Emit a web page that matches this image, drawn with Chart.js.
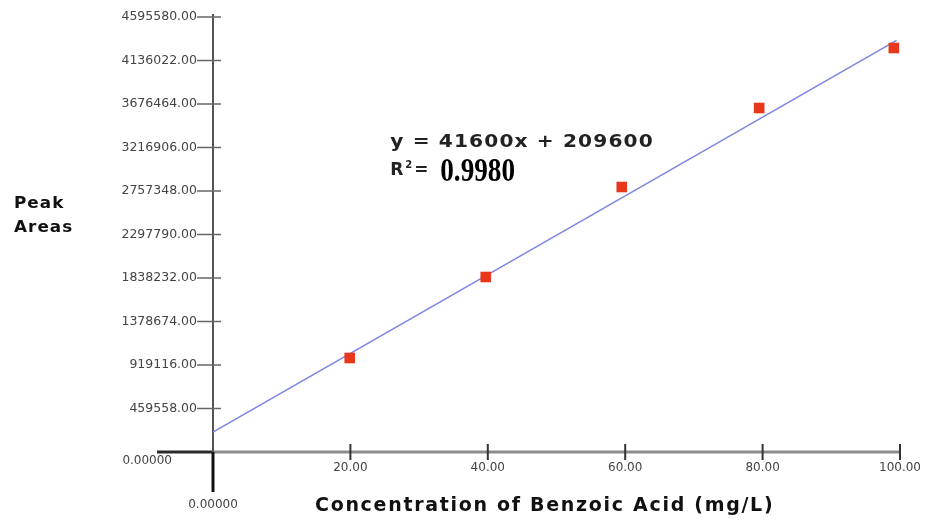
<!DOCTYPE html>
<html lang="en"><head>
<meta charset="UTF-8">
<title>Benzoic Acid calibration</title>
<script src="https://cdn.jsdelivr.net/npm/chart.js@4.4.1/dist/chart.umd.min.js"></script>
<style>
  html, body { margin:0; padding:0; background:#ffffff; }
  #wrap { width:935px; height:520px; position:relative; }
</style>
</head>
<body>
<div id="wrap"><canvas id="calib_chart"></canvas></div>

<script>
// data
const concentration = [19.9, 39.7, 59.5, 79.5, 99.1];        // mg/L
const peakArea = [993000, 1848800, 2799600, 3634300, 4268100];
const yStep = 459558;          // y tick spacing
const yTickCount = 10;
const xStep = 20;
const xMax = 100;
// trend line from the printed equation
const slope = 41600;
const intercept = 209600;
const fitRange = [0, 99.5];
const eqText = 'y = 41600x + 209600';
const r2Text = '0.9980';
const eqAt = { x: 25.8, y: 3267000 };

const pts = concentration.map((c, i) => ({ x: c, y: peakArea[i] }));
const fit = fitRange.map(v => ({ x: v, y: slope * v + intercept }));

Chart.defaults.font.family = '"DejaVu Sans", Verdana, sans-serif';
Chart.defaults.color = '#444';

function seg(ctx, x1, y1, x2, y2) {
	ctx.beginPath();
	ctx.moveTo(x1, y1);
	ctx.lineTo(x2, y2);
	ctx.stroke();
}

// wide text: stretched a little sideways, as in the picture
function wideText(ctx, txt, x, y, sx, spacing) {
	ctx.save();
	ctx.translate(x, y);
	ctx.scale(sx, 1);
	ctx.letterSpacing = spacing + 'px';
	ctx.fillText(txt, 0, 0);
	ctx.restore();
}

// axes crossing at zero, with tick marks on both sides
const crossAxes = {
	id: 'crossAxes',
	beforeDatasetsDraw(chart) {
		const { ctx, chartArea: a, scales: { x, y } } = chart;
		const x0 = x.getPixelForValue(0), y0 = y.getPixelForValue(0);
		ctx.save();
		ctx.lineCap = 'butt';
		ctx.strokeStyle = '#8c8c8c'; ctx.lineWidth = 3;
		seg(ctx, x0, y0, a.right, y0);
		ctx.strokeStyle = '#2a2a2a'; ctx.lineWidth = 3;
		seg(ctx, x0 - 56, y0, x0, y0);
		ctx.strokeStyle = '#555'; ctx.lineWidth = 2;
		seg(ctx, x0, a.top - 3, x0, y0);
		ctx.strokeStyle = '#111'; ctx.lineWidth = 3;
		seg(ctx, x0, y0, x0, y0 + 40);

		ctx.strokeStyle = '#666'; ctx.lineWidth = 1.5;
		y.ticks.forEach(t => {
			if (!t.value) return;
			const py = y.getPixelForValue(t.value);
			seg(ctx, x0 - 16, py, x0 + 8, py);
		});
		ctx.strokeStyle = '#333'; ctx.lineWidth = 2;
		x.ticks.forEach(t => {
			if (!t.value) return;
			const px = x.getPixelForValue(t.value);
			seg(ctx, px, y0 - 8, px, y0 + 8);
		});

		ctx.fillStyle = '#444';
		ctx.font = '12px "DejaVu Sans"';
		ctx.textBaseline = 'middle';
		ctx.textAlign = 'right';
		ctx.fillText('0.00000', x0 - 41, y0 + 9);
		ctx.textAlign = 'center';
		ctx.fillText('0.00000', x0, y0 + 53);
		ctx.restore();
	},
	afterDraw(chart) {
		const { ctx, chartArea: a, scales: { x, y } } = chart;
		ctx.save();
		ctx.fillStyle = '#222';
		ctx.textBaseline = 'middle';
		ctx.textAlign = 'left';

		// equation
		const ex = x.getPixelForValue(eqAt.x), ey = y.getPixelForValue(eqAt.y);
		ctx.font = 'bold 18px "DejaVu Sans"';
		wideText(ctx, eqText, ex, ey, 1.12, 1);
		ctx.font = 'bold 17px "DejaVu Sans"';
		ctx.fillText('R', ex, ey + 28);
		ctx.font = 'bold 10px "DejaVu Sans"';
		ctx.fillText('2', ex + 15, ey + 23);
		ctx.font = 'bold 17px "DejaVu Sans"';
		ctx.fillText('=', ex + 24, ey + 28);
		ctx.save();
		ctx.translate(ex + 50, ey + 29);
		ctx.scale(0.8, 1);
		ctx.font = 'bold 34px "Liberation Sans Narrow"';
		ctx.fillStyle = '#000';
		ctx.fillText(r2Text, 0, 0);
		ctx.restore();

		// axis titles
		ctx.fillStyle = '#111';
		ctx.font = 'bold 19px "DejaVu Sans"';
		ctx.textAlign = 'left';
		wideText(ctx, 'Concentration of Benzoic Acid (mg/L)', a.left + 102, a.bottom + 54, 1.0, 1.7);

		ctx.font = 'bold 16px "DejaVu Sans"';
		ctx.save();
		ctx.beginPath();
		ctx.rect(0, 0, 75, chart.height);
		ctx.clip();
		wideText(ctx, 'Peak', 14, 204, 1.05, 1);
		wideText(ctx, 'Areas', 14, 228, 1.05, 1);
		ctx.restore();
		ctx.restore();
	}
};

new Chart(document.getElementById('calib_chart'), {
	type: 'scatter',
	data: {
		datasets: [{
			label: 'Peak Areas',
			data: pts,
			order: 0,
			pointStyle: 'rect',
			pointRadius: 7.5,
			pointBorderWidth: 0,
			backgroundColor: '#e8381c',
			borderColor: '#e8381c'
		}, {
			label: 'fit',
			data: fit,
			order: 1,
			showLine: true,
			pointRadius: 0,
			borderColor: '#7f86e2',
			borderWidth: 1.6
		}]
	},
	options: {
		responsive: true,
		maintainAspectRatio: false,
		animation: false,
		layout: { padding: { top: 17, right: 35, left: 0, bottom: 0 } },
		plugins: { legend: { display: false }, tooltip: { enabled: false } },
		scales: {
			x: {
				type: 'linear',
				min: 0,
				max: xMax,
				grid: { display: false, drawTicks: false },
				border: { display: false },
				afterFit: s => { s.height = 68; s.paddingLeft = 0; s.paddingRight = 0; },
				ticks: {
					stepSize: xStep,
					padding: 9,
					maxRotation: 0,
					autoSkip: false,
					font: { size: 12 },
					callback: v => v === 0 ? '' : v.toFixed(2)
				}
			},
			y: {
				type: 'linear',
				min: 0,
				max: yStep * yTickCount,
				grid: { display: false, drawTicks: false },
				border: { display: false },
				afterFit: s => { s.width = 213; s.paddingTop = 0; s.paddingBottom = 0; },
				ticks: {
					stepSize: yStep,
					padding: 16,
					autoSkip: false,
					font: { size: 12.5 },
					callback: v => v === 0 ? '' : v.toFixed(2)
				}
			}
		}
	},
	plugins: [crossAxes]
});
</script>
</body></html>
